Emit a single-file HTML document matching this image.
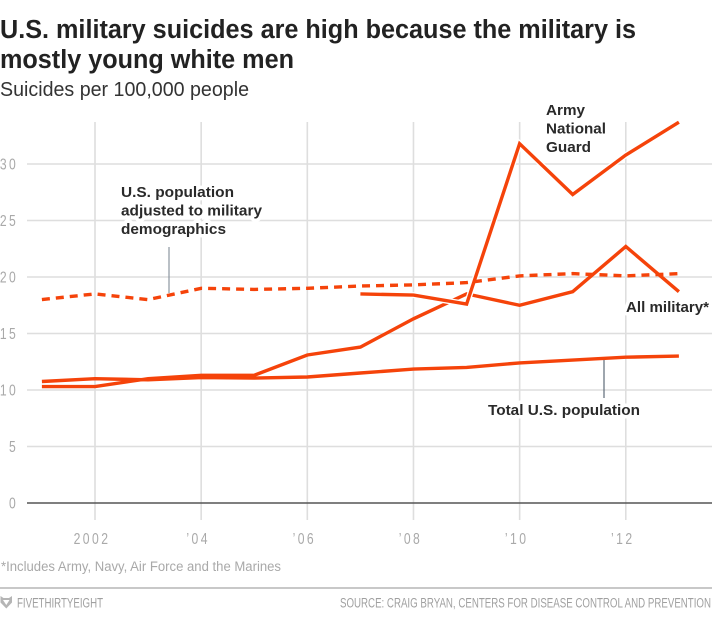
<!DOCTYPE html>
<html lang="en">
<head>
<meta charset="utf-8">
<title>U.S. military suicides</title>
<style>
  html, body { margin: 0; padding: 0; background: #fff; }
  svg { display: block; font-family: "Liberation Sans", sans-serif; }
  .title { font-size: 25.5px; font-weight: 700; fill: #222; }
  .sub { font-size: 20px; fill: #333; }
  .lab { font-size: 15px; font-weight: 700; fill: #2a2a2a; stroke: #fff; stroke-width: 7px; paint-order: stroke; stroke-linejoin: round; }
  .tick { font-size: 16px; fill: #a9a9a9; }
  .foot { font-size: 13.5px; fill: #a9a9a9; }
  .brand { font-size: 13.5px; fill: #a0a0a0; }
</style>
</head>
<body>
<svg id="chart" width="712" height="619" viewBox="0 0 712 619" xmlns="http://www.w3.org/2000/svg">
  <text class="title" x="0" y="38" textLength="636" lengthAdjust="spacingAndGlyphs">U.S. military suicides are high because the military is</text>
  <text class="title" x="0" y="68" textLength="294" lengthAdjust="spacingAndGlyphs">mostly young white men</text>
  <text class="sub" x="0" y="96" textLength="249" lengthAdjust="spacingAndGlyphs">Suicides per 100,000 people</text>

  <g id="grid"></g>
  <g id="yticks"></g>
  <g id="xticks"></g>

  <g>
    <text class="lab" x="121" y="197" textLength="113" lengthAdjust="spacingAndGlyphs">U.S. population</text>
    <text class="lab" x="121" y="215.5" textLength="141" lengthAdjust="spacingAndGlyphs">adjusted to military</text>
    <text class="lab" x="121" y="234" textLength="105" lengthAdjust="spacingAndGlyphs">demographics</text>
  </g>
  <g>
    <text class="lab" x="546" y="115" textLength="39" lengthAdjust="spacingAndGlyphs">Army</text>
    <text class="lab" x="546" y="133.5" textLength="60" lengthAdjust="spacingAndGlyphs">National</text>
    <text class="lab" x="546" y="152" textLength="45" lengthAdjust="spacingAndGlyphs">Guard</text>
  </g>
  <text class="lab" x="626" y="312" textLength="83" lengthAdjust="spacingAndGlyphs">All military*</text>
  <text class="lab" x="488" y="415" textLength="152" lengthAdjust="spacingAndGlyphs">Total U.S. population</text>

  <line x1="169" y1="247" x2="169" y2="293" stroke="#8b95a1" stroke-width="1.2"/>
  <line x1="604" y1="359" x2="604" y2="398" stroke="#5d6b78" stroke-width="1.2"/>

  <g id="series"></g>

  <text class="foot" x="1" y="571" textLength="280" lengthAdjust="spacingAndGlyphs">*Includes Army, Navy, Air Force and the Marines</text>
  <rect x="0" y="587" width="712" height="2" fill="#c8c8c8"/>
  <path d="M0.5 596 L3.5 598 L9 598 L12 596 L12 602.5 L6.3 608.5 L0.5 602.5 Z M3 600 L6.3 605 L9.5 600 Z" fill="#b5b5b5" fill-rule="evenodd"/>
  <text class="brand" x="17" y="607.5" textLength="86" lengthAdjust="spacingAndGlyphs">FIVETHIRTYEIGHT</text>
  <text class="brand" x="340" y="607.5" textLength="371" lengthAdjust="spacingAndGlyphs">SOURCE: CRAIG BRYAN, CENTERS FOR DISEASE CONTROL AND PREVENTION</text>
</svg>
<script>
var years = [2001, 2002, 2003, 2004, 2005, 2006, 2007, 2008, 2009, 2010, 2011, 2012, 2013];
var allMilitaryValues = [10.3, 10.3, 11.0, 11.3, 11.3, 13.1, 13.8, 16.3, 18.5, 17.5, 18.7, 22.7, 18.7];
var totalPopulationValues = [10.75, 11.0, 10.9, 11.1, 11.05, 11.15, 11.5, 11.85, 12.0, 12.4, 12.65, 12.9, 13.0];
var adjustedPopulationValues = [18.0, 18.5, 18.0, 19.0, 18.9, 19.0, 19.2, 19.3, 19.5, 20.1, 20.3, 20.1, 20.3];
var guardYears = [2007, 2008, 2009, 2010, 2011, 2012, 2013];
var guardValues = [18.5, 18.4, 17.6, 31.8, 27.3, 30.8, 33.7];
var yTickValues = [0, 5, 10, 15, 20, 25, 30];
var xTickYears = [2002, 2004, 2006, 2008, 2010, 2012];
var xTickLabels = ["2002", "\u201904", "\u201906", "\u201908", "\u201910", "\u201912"];

var NS = "http://www.w3.org/2000/svg";
function xScale(year) { return 95 + (year - 2002) * 53.08; }
function yScale(value) { return 503 - value * 11.3; }
function make(parent, tag, attrs) {
  var el = document.createElementNS(NS, tag);
  for (var k in attrs) el.setAttribute(k, attrs[k]);
  parent.appendChild(el);
  return el;
}
function linePath(xs, ys) {
  return xs.map(function (x, i) {
    return (i ? "L" : "M") + xScale(x).toFixed(1) + " " + yScale(ys[i]).toFixed(1);
  }).join(" ");
}

var grid = document.getElementById("grid");
xTickYears.forEach(function (year) {
  var v = make(grid, "line", { x1: xScale(year), x2: xScale(year), y1: 122, y2: 520, stroke: "#dedede", "stroke-width": 1.6 });
  
  
});
yTickValues.forEach(function (value) {
  var h = make(grid, "line", { x1: 27, x2: 712, y1: yScale(value), y2: yScale(value), stroke: value === 0 ? "#555" : "#dedede", "stroke-width": 1.6 });
  
  
});

var yticks = document.getElementById("yticks");
yTickValues.forEach(function (value) {
  var t = make(yticks, "text", { transform: "translate(18," + (yScale(value) + 5.5) + ") scale(0.76,1)", "text-anchor": "end", "letter-spacing": "3", "class": "tick" });
  
  
  t.textContent = value;
});

var xticks = document.getElementById("xticks");
xTickYears.forEach(function (year, i) {
  var t = make(xticks, "text", { transform: "translate(" + (xScale(year) - 3) + ",544) scale(0.76,1)", "text-anchor": "middle", "letter-spacing": "3.2", "class": "tick" });
  
  
  t.textContent = xTickLabels[i];
});

var series = document.getElementById("series");
var lineStyle = { fill: "none", stroke: "#f5430a", "stroke-width": 3.4, "stroke-linejoin": "miter" };
function drawLine(xs, ys, extra) {
  var attrs = { d: linePath(xs, ys) };
  for (var k in lineStyle) attrs[k] = lineStyle[k];
  for (var e in extra) attrs[e] = extra[e];
  return make(series, "path", attrs);
}

var allMilitaryLine = drawLine(years, allMilitaryValues, {});



var guardCasing = drawLine(guardYears, guardValues, { stroke: "#fff", "stroke-width": 6 });



var guardLine = drawLine(guardYears, guardValues, {});



var totalLine = drawLine(years, totalPopulationValues, {});



var adjustedLine = drawLine(years, adjustedPopulationValues, { "stroke-dasharray": "8 6" });


</script>
</body>
</html>
